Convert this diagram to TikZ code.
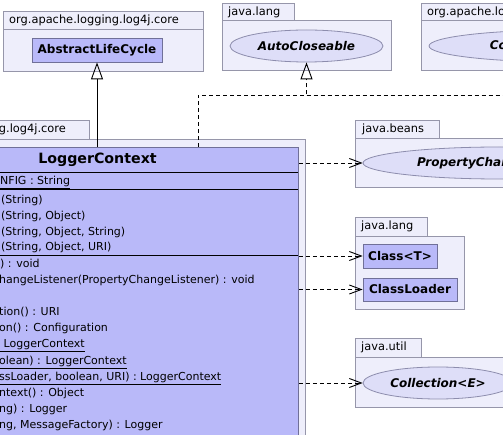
\documentclass[tikz,border=0pt]{standalone}
\usepackage{fontspec}
\setmainfont{DejaVu Sans}
\usetikzlibrary{arrows.meta,shapes.geometric}

\definecolor{pkgfill}{RGB}{238,238,251}
\definecolor{pkgline}{RGB}{150,150,170}
\definecolor{clsfill}{RGB}{185,185,249}
\definecolor{clsline}{RGB}{112,112,152}
\definecolor{ifcfill}{RGB}{222,222,248}

\tikzset{
    pkg/.style={draw=pkgline, fill=pkgfill, line width=0.8pt},
    pkglabel/.style={anchor=west, inner sep=0pt, font=\fontsize{11.4}{13}\selectfont},
    cls/.style={draw=clsline, fill=clsfill, line width=0.8pt, inner sep=0pt, font=\fontsize{12}{14}\selectfont\bfseries},
    ifc/.style={ellipse, draw=clsline!80, fill=ifcfill, line width=0.8pt, inner sep=0pt, minimum height=32pt, font=\fontsize{12}{14}\selectfont\bfseries\itshape},
    member/.style={anchor=west, inner sep=0pt, text height=8.5pt, text depth=2.5pt, font=\fontsize{11}{13}\selectfont},
    sep/.style={line width=1pt},
    inherit/.style={line width=0.9pt, -{Triangle[open, length=17pt, width=12pt]}},
    realize/.style={inherit, dash pattern=on 4pt off 3pt},
    depend/.style={line width=0.9pt, dash pattern=on 4pt off 3pt, -{Straight Barb[length=12pt, width=9pt]}}
}

\begin{document}
\begin{tikzpicture}[x=1pt,y=-1pt]
        \useasboundingbox (0,0) rectangle (503,435);
        \clip (0,0) rectangle (503,435);

        \draw[pkg] (3,11) rectangle (203,29);
        \draw[pkg] (3,29) rectangle (203,71);
        \node[pkglabel] (corepkg) at (9,20) {org.apache.logging.log4j.core};

        \draw[pkg] (222,3) rectangle (294,20);
        \draw[pkg] (222,20) rectangle (391,70);
        \node[pkglabel] (langpkg) at (228,12) {java.lang};

        \draw[pkg] (421,3) rectangle (655,20);
        \draw[pkg] (421,20) rectangle (710,70);
        \node[pkglabel] (cfgpkg) at (427,12) {org.apache.logging.log4j.core.config};

        \draw[pkg] (-110,120) rectangle (89,139);
        \draw[pkg] (-110,139) rectangle (305,480);
        \node[pkglabel] (lcpkg) at (-104,129) {org.apache.logging.log4j.core};

        \draw[pkg] (355,120) rectangle (439,138);
        \draw[pkg] (355,138) rectangle (645,187);
        \node[pkglabel] (beanspkg) at (362,129) {java.beans};

        \draw[pkg] (355,217) rectangle (427,236);
        \draw[pkg] (355,236) rectangle (464,309);
        \node[pkglabel] (lang2pkg) at (361,226) {java.lang};

        \draw[pkg] (355,338) rectangle (421,357);
        \draw[pkg] (355,357) rectangle (540,407);
        \node[pkglabel] (utilpkg) at (361,347) {java.util};

        \node[cls, minimum width=130pt, minimum height=24pt] (alc) at (97,50) {AbstractLifeCycle};
        \node[ifc, minimum width=153pt] (ac) at (306.5,46) {AutoCloseable};
        \node[ifc, minimum width=270pt] (conf) at (564,46) {ConfigurationListener};
        \node[ifc, minimum width=273pt] (pcl) at (499.5,163) {PropertyChangeListener};
        \node[cls, minimum width=74pt, minimum height=24pt] (cls) at (400,256) {Class<T>};
        \node[cls, minimum width=94pt, minimum height=23pt] (cl) at (410,289.5) {ClassLoader};
        \node[ifc, minimum width=150pt] (coll) at (438,383) {Collection<E>};

        \node[cls, minimum width=401pt, minimum height=353pt, anchor=north west] (lc) at (-103,147) {};
        \node[font=\fontsize{14.2}{16}\selectfont\bfseries, inner sep=0pt] (lcname) at (97.5,160) {LoggerContext};
        \draw[sep] (-103,173) -- (298,173);
        \draw[sep] (-103,190) -- (298,190);
        \draw[sep] (-103,256) -- (298,256);

        \node[member] (f1) at (0,182) {\underline{NFIG : String\vphantom{(}}};
        \node[member] (c1) at (1,200.7) {(String)};
        \node[member] (c2) at (1,216.7) {(String, Object)};
        \node[member] (c3) at (1,232.7) {(String, Object, String)};
        \node[member] (c4) at (1,248) {(String, Object, URI)};
        \node[member] (m1) at (0,265) {) : void};
        \node[member] (m2) at (-1,281) {hangeListener(PropertyChangeListener) : void};
        \node[member] (m4) at (-1,313) {tion() : URI};
        \node[member] (m5) at (-1,329) {on() : Configuration};
        \node[member] (m6) at (0,345) {\underline{\ LoggerContext\vphantom{(}}};
        \node[member] (m7) at (-1,361.5) {\underline{olean) : LoggerContext}};
        \node[member] (m8) at (-1,377.5) {\underline{ssLoader, boolean, URI) : LoggerContext}};
        \node[member] (m9) at (-1,393.5) {ntext() : Object};
        \node[member] (m10) at (-1,409.5) {ng) : Logger};
        \node[member] (m11) at (-1,425.5) {ng, MessageFactory) : Logger};

        \draw[inherit] (lc.north -| alc.south) -- (alc.south);

        \coordinate (lcimpl) at (198,147);
        \coordinate (bend) at (198,95);
        \draw[realize] (lcimpl) -- (bend) -- (bend -| ac.south) -- (ac.south);
        \draw[realize] (bend -| ac.south) -- (bend -| conf.south) -- (conf.south);

        \draw[depend] (pcl.west -| lc.east) -- (pcl.west);
        \draw[depend] (cls.west -| lc.east) -- (cls.west);
        \draw[depend] (cl.west -| lc.east) -- (cl.west);
        \draw[depend] (coll.west -| lc.east) -- (coll.west);
    \end{tikzpicture}
\end{document}
